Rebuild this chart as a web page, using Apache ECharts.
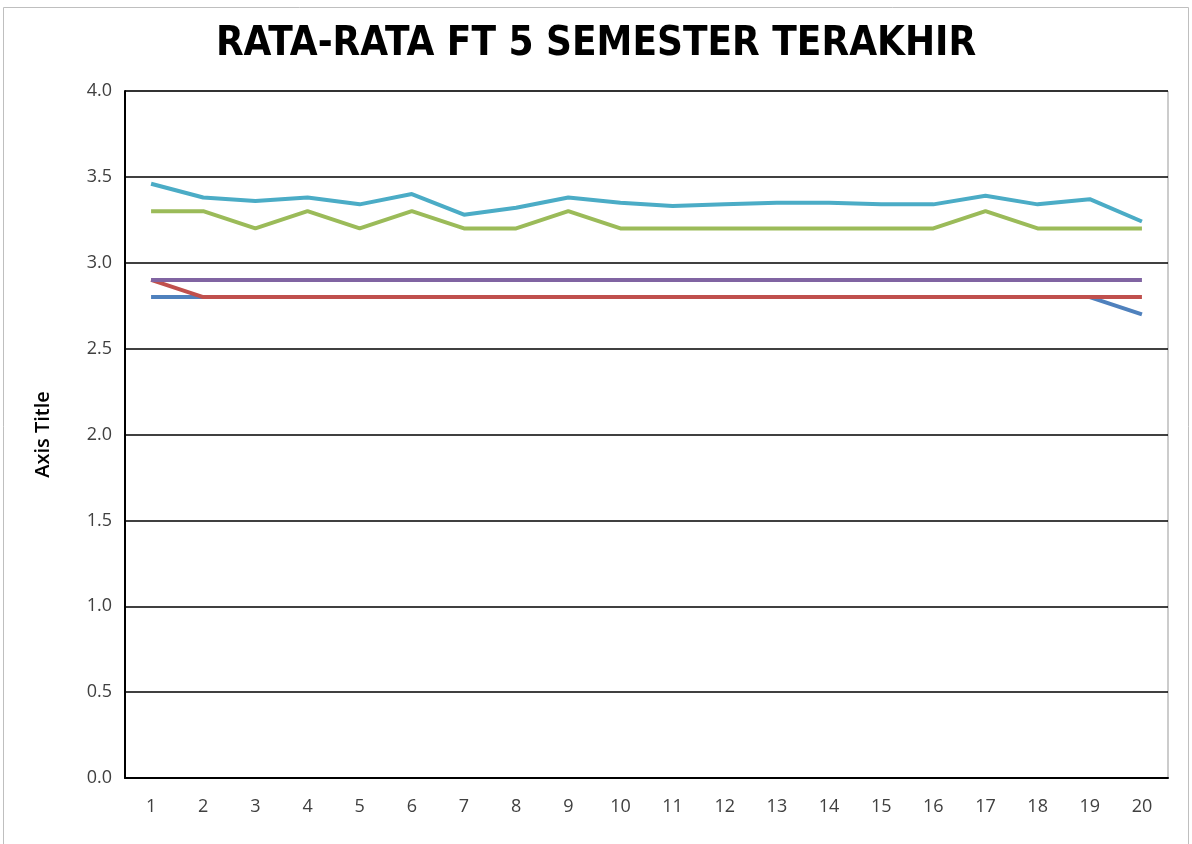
<!DOCTYPE html>
<html style="height: 100%">
<head>
    <meta charset="utf-8">
</head>
<body style="height: 100%; margin: 0; background: #fff">
<div id="container" style="width: 1192px; height: 844px"></div>

<script type="text/javascript" src="https://cdn.jsdelivr.net/npm/echarts@6/dist/echarts.min.js"></script>
<script type="text/javascript">
    var categories = ['1','2','3','4','5','6','7','8','9','10','11','12','13','14','15','16','17','18','19','20'];
    var seriesBlue   = [2.8,2.8,2.8,2.8,2.8,2.8,2.8,2.8,2.8,2.8,2.8,2.8,2.8,2.8,2.8,2.8,2.8,2.8,2.8,2.7];
    var seriesRed    = [2.9,2.8,2.8,2.8,2.8,2.8,2.8,2.8,2.8,2.8,2.8,2.8,2.8,2.8,2.8,2.8,2.8,2.8,2.8,2.8];
    var seriesGreen  = [3.3,3.3,3.2,3.3,3.2,3.3,3.2,3.2,3.3,3.2,3.2,3.2,3.2,3.2,3.2,3.2,3.3,3.2,3.2,3.2];
    var seriesPurple = [2.9,2.9,2.9,2.9,2.9,2.9,2.9,2.9,2.9,2.9,2.9,2.9,2.9,2.9,2.9,2.9,2.9,2.9,2.9,2.9];
    var seriesCyan   = [3.46,3.38,3.36,3.38,3.34,3.40,3.28,3.32,3.38,3.35,3.33,3.34,3.35,3.35,3.34,3.34,3.39,3.34,3.37,3.24];

    var dom = document.getElementById('container');
    var myChart = echarts.init(dom, null, { renderer: 'canvas' });

    function line(name, data, color) {
        return {
            name: name,
            type: 'line',
            data: data,
            showSymbol: false,
            symbol: 'none',
            lineStyle: { color: color, width: 4 },
            itemStyle: { color: color },
            animation: false
        };
    }

    var titleFont = '"Liberation Sans Narrow", "DejaVu Sans Condensed", sans-serif';
    var font = '"Open Sans", sans-serif';

    var option = {
        backgroundColor: '#fff',
        title: {
            text: 'RATA-RATA FT 5 SEMESTER TERAKHIR',
            left: 'center',
            top: 20,
            textStyle: { fontFamily: titleFont, fontWeight: 'bold', fontSize: 40, color: '#000' }
        },
        graphic: [{
            type: 'rect',
            shape: { x: 3.5, y: 7.5, width: 1185, height: 860 },
            style: { fill: 'none', stroke: '#bfbfbf', lineWidth: 1 },
            silent: true
        }],
        grid: {
            left: 125, right: 24, top: 91, bottom: 66,
            show: true, borderColor: '#999', borderWidth: 1
        },
        xAxis: {
            type: 'category',
            data: categories,
            boundaryGap: true,
            axisLine: { show: true, lineStyle: { color: '#000', width: 2 } },
            axisTick: { show: false },
            axisLabel: { fontFamily: font, fontSize: 18, color: '#404040', margin: 20 }
        },
        yAxis: {
            type: 'value',
            name: 'Axis Title',
            nameLocation: 'middle',
            nameGap: 72,
            nameTextStyle: { fontFamily: font, fontWeight: 600, fontSize: 20, color: '#000' },
            min: 0, max: 4, interval: 0.5,
            axisLine: { show: true, lineStyle: { color: '#000', width: 2 } },
            axisTick: { show: false },
            axisLabel: {
                fontFamily: font, fontSize: 18, color: '#404040', margin: 13,
                formatter: function (v) { return v.toFixed(1); }
            },
            splitLine: { lineStyle: { color: '#000', width: 1.5 } }
        },
        series: [
            line('Series1', seriesBlue, '#4F81BD'),
            line('Series2', seriesRed, '#C0504D'),
            line('Series3', seriesGreen, '#9BBB59'),
            line('Series4', seriesPurple, '#8064A2'),
            line('Series5', seriesCyan, '#4BACC6')
        ]
    };
    myChart.setOption(option);
    window.addEventListener('resize', myChart.resize);
</script>
</body>
</html>
